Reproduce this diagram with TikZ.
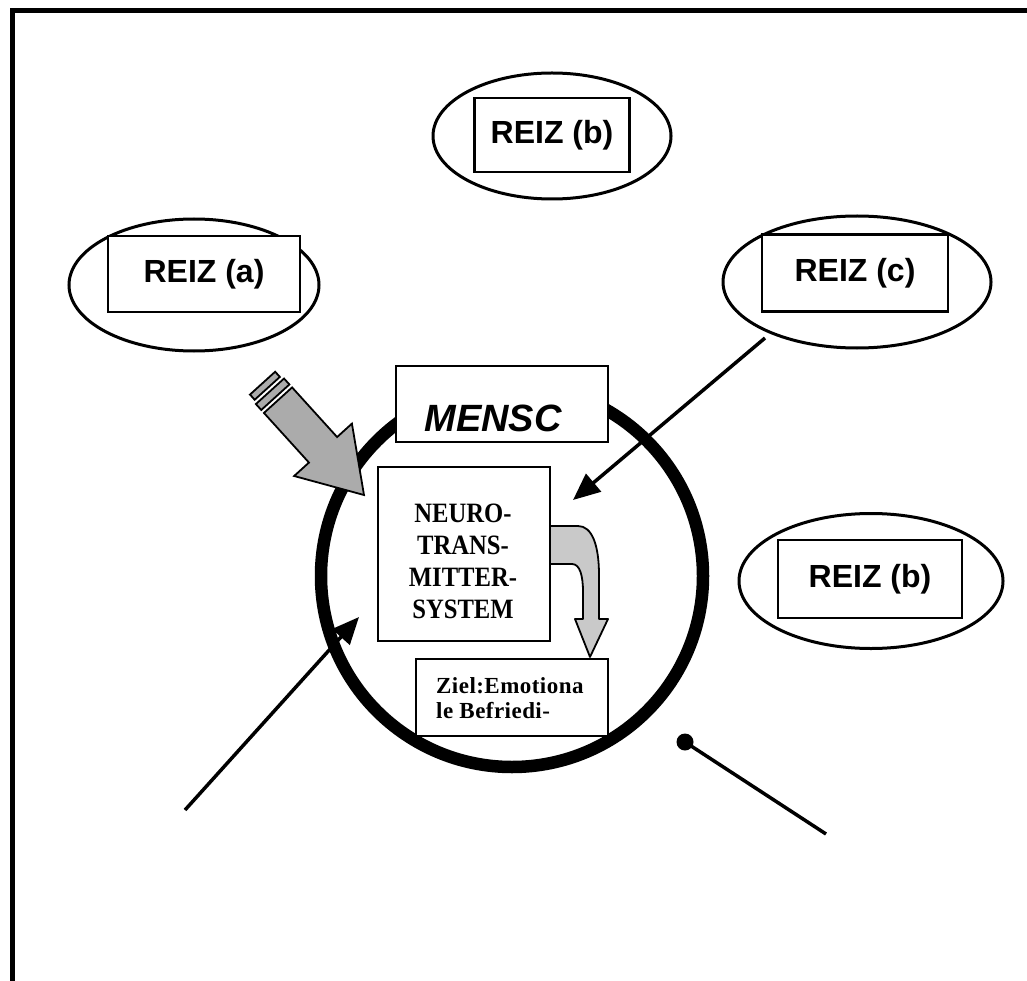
\documentclass[tikz,border=0pt]{standalone}
\usepackage{fontspec}
\usepackage{tikz}
\usetikzlibrary{shapes.geometric,arrows.meta}
\newfontfamily\reizfont{Liberation Sans}
\newfontfamily\neurofont[FakeStretch=0.88]{Liberation Serif}
\newfontfamily\zielfont[LetterSpace=2]{Liberation Serif}
\definecolor{arrowgray}{gray}{0.67}
\definecolor{lightgray}{gray}{0.79}

\begin{document}
\begin{tikzpicture}[x=1pt,y=-1pt,
   reiz/.style={ellipse,draw,line width=3pt,inner sep=0pt},
   box/.style={rectangle,draw,line width=2.2pt,fill=white,inner sep=0pt},
   reiztext/.style={font=\reizfont\bfseries\fontsize{32}{36}\selectfont},
   pointer/.style={line width=3.5pt,-{Triangle[length=27pt,width=23pt]}}]
   \useasboundingbox (0,0) rectangle (1027,981);
   % frame
   \draw[line width=5pt] (12,981) -- (12,11) -- (1027,11);

   % stimuli
   \node[reiz,minimum width=238,minimum height=126] (reizbtop) at (552,136) {};
   \node[box,reiztext,minimum width=155,minimum height=74] (reizbtoptext) at (552,135) {REIZ (b)};
   \node[reiz,minimum width=250,minimum height=132] (reiza) at (194,285) {};
   \node[box,reiztext,minimum width=192,minimum height=76] (reizatext) at (204,274) {REIZ (a)};
   \node[reiz,minimum width=268,minimum height=132] (reizc) at (857,282) {};
   \node[box,reiztext,minimum width=186,minimum height=77] (reizctext) at (855,273) {REIZ (c)};
   \node[reiz,minimum width=264,minimum height=135] (reizbright) at (871,581) {};
   \node[box,reiztext,minimum width=184,minimum height=78] (reizbrighttext) at (870,579) {REIZ (b)};

   % the human
   \node[circle,draw,line width=12.5pt,minimum size=382,inner sep=0pt] (mensch) at (512,576) {};
   \node[box,minimum width=212,minimum height=76] (menscbox) at (502,404) {};
   \node[font=\reizfont\bfseries\itshape\fontsize{38}{40}\selectfont] (mensc) at (493,418) {MENSC};
   \node[box,minimum width=172,minimum height=174] (neuro) at (464,554) {};
   \node[align=center,font=\neurofont\bfseries\fontsize{28}{32}\selectfont] (neurotext) at (463,561)
      {NEURO-\\TRANS-\\MITTER-\\SYSTEM};
   \node[box,minimum width=192,minimum height=77] (ziel) at (512,697.5) {};
   \node[anchor=north west,inner sep=0pt,align=left,font=\zielfont\bfseries\fontsize{23}{25}\selectfont]
      (zieltext) at (436,677) {Ziel:Emotiona\\le Befriedi-};

   % bent arrow
   \draw[line width=1.8pt,fill=lightgray,line join=round]
      (550,526) -- (578,526) .. controls (592,526) and (599,545) .. (599,575)
      -- (599,619) -- (608,619) -- (590,657) -- (575,619) -- (583,619) -- (583,592)
      .. controls (583,576) and (580,564) .. (572,564) -- (550,564) -- cycle;

   % big arrow
   \begin{scope}[shift={(364,495)},rotate=-47.8,line width=1.8pt,fill=arrowgray]
      \filldraw (0,0) -- (-61,39) -- (-61,19) -- (-128,19) -- (-128,-19)
         -- (-61,-19) -- (-61,-39) -- cycle;
      \filldraw (-132,19) -- (-140,19) -- (-140,-19) -- (-132,-19) -- cycle;
      \filldraw (-144,17) -- (-151,17) -- (-151,-17) -- (-144,-17) -- cycle;
   \end{scope}

   % thin arrows
   \coordinate (ctail) at (765,338);
   \coordinate (chead) at (573,500);
   \coordinate (atail) at (185,810);
   \coordinate (ahead) at (359,617);
   \draw[pointer] (ctail) -- (chead);
   \draw[pointer] (atail) -- (ahead);

   % line with dot
   \node[circle,fill,minimum size=17,inner sep=0pt] (dot) at (685,742) {};
   \coordinate (dotend) at (826,834);
   \draw[line width=3.5pt] (dot.center) -- (dotend);
\end{tikzpicture}
\end{document}
